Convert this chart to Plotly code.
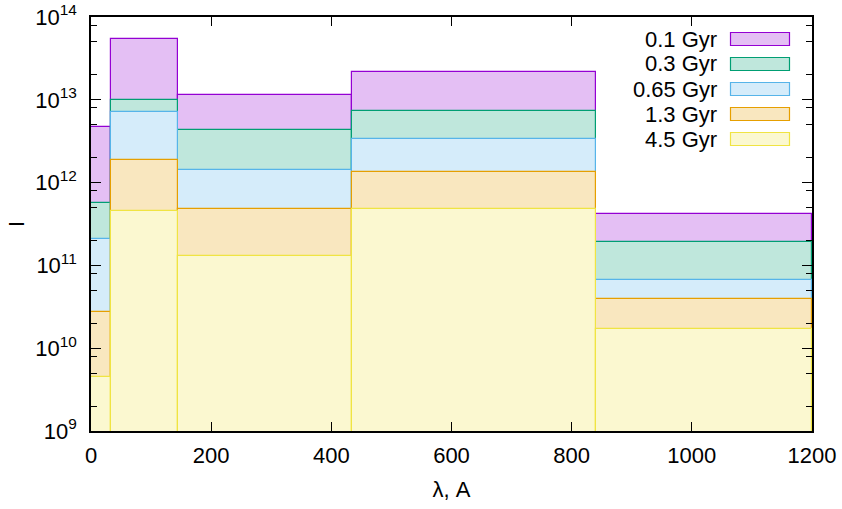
import plotly.graph_objects as go

# Bin edges (wavelength, Angstrom)
edges = [0, 34, 145, 435, 840, 1200]

names = ["0.1 Gyr", "0.3 Gyr", "0.65 Gyr", "1.3 Gyr", "4.5 Gyr"]
line_colors = ["#9400d3", "#009e73", "#56b4e9", "#e69f00", "#f0e442"]

vals_01 = [4.7e12, 5.4e13, 1.15e13, 2.17e13, 4.2e11]
vals_03 = [5.6e11, 9.9e12, 4.3e12, 7.3e12, 1.92e11]
vals_065 = [2.1e11, 7.1e12, 1.41e12, 3.33e12, 6.7e10]
vals_13 = [2.76e10, 1.86e12, 4.8e11, 1.35e12, 3.93e10]
vals_45 = [4.5e9, 4.6e11, 1.29e11, 4.76e11, 1.69e10]
series = [vals_01, vals_03, vals_065, vals_13, vals_45]

xticks = [0, 200, 400, 600, 800, 1000, 1200]
y_exponents = [9, 10, 11, 12, 13, 14]
yticks = [10.0 ** e for e in y_exponents]
yticktext = ["10<sup>{}</sup>".format(e) for e in y_exponents]


def light(hexcol, density=0.25):
    r, g, b = (int(hexcol[i:i + 2], 16) for i in (1, 3, 5))
    mix = lambda c: round(255 - density * (255 - c))
    return "rgb({},{},{})".format(mix(r), mix(g), mix(b))


centers = [(a + b) / 2 for a, b in zip(edges[:-1], edges[1:])]
widths = [b - a for a, b in zip(edges[:-1], edges[1:])]

FONT = "Liberation Sans, Arial, sans-serif"
FS = 22

fig = go.Figure()
for name, col, vals in zip(names, line_colors, series):
    fig.add_trace(go.Bar(
        x=centers, y=vals, width=widths, name=name,
        marker=dict(color=light(col), line=dict(color=col, width=1.2)),
        showlegend=False,
    ))

# custom gnuplot-style legend (text right, sample box on the right)
W, H = 842, 509
L, R, T, B = 91, 30, 17, 78
pw, ph = W - L - R, H - T - B
def px(x):
    return (x - L) / pw
def py(y):
    return (H - B - y) / ph

for i, (name, col) in enumerate(zip(names, line_colors)):
    yc = 39 + 25 * i
    fig.add_annotation(x=px(719), y=py(yc), xref="paper", yref="paper",
                       text=name, showarrow=False, xanchor="right", yanchor="middle",
                       font=dict(family=FONT, size=FS, color="black"))
    fig.add_shape(type="rect", xref="paper", yref="paper",
                  x0=px(730.5), x1=px(789.5), y0=py(yc + 6.5), y1=py(yc - 6.5),
                  fillcolor=light(col), line=dict(color=col, width=1.2))

minor_vals = [k * 10 ** d for d in range(9, 14) for k in (2, 5, 8)]

fig.update_layout(
    width=W, height=H,
    margin=dict(l=L, r=R, t=T, b=B),
    barmode="overlay", bargap=0,
    plot_bgcolor="white", paper_bgcolor="white",
    font=dict(family=FONT, size=FS, color="black"),
    xaxis=dict(range=[0, 1200], tickvals=xticks, ticks="inside", ticklen=9,
               tickwidth=1, tickcolor="black", mirror="allticks", showline=True,
               linecolor="black", linewidth=1.5, showgrid=False, zeroline=False,
               ticklabelstandoff=4, automargin=False,
               title=dict(text="λ, A", standoff=14, font=dict(size=FS))),
    yaxis=dict(type="log", range=[9, 14], tickvals=yticks, ticktext=yticktext,
               ticks="inside", ticklen=10, tickwidth=1, tickcolor="black",
               mirror="allticks", showline=True, linecolor="black", linewidth=1.5,
               showgrid=False, zeroline=False, ticklabelstandoff=8, automargin=False,
               minor=dict(tickvals=minor_vals, ticks="inside", ticklen=6,
                          tickcolor="black", tickwidth=1),
               title=dict(text="I", standoff=5, font=dict(size=FS))),
)

fig.write_html("out.html", config={"displayModeBar": False},
               post_script="document.body.style.margin='0';document.body.style.overflow='hidden';")
